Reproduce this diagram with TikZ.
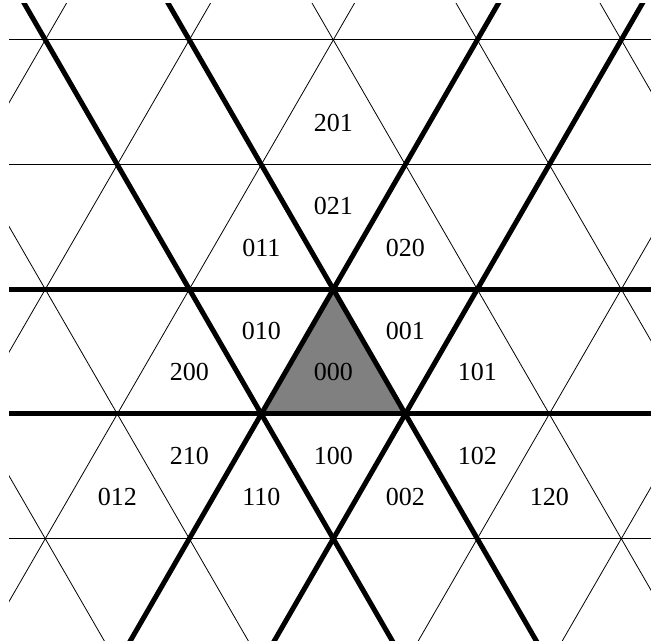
\documentclass[tikz,border=0pt]{standalone}
\usepackage{fontspec}
\setmainfont{Liberation Serif}
\usepackage{tikz}

\begin{document}
\begin{tikzpicture}[x=144pt,y=124.7pt,
  gridline/.style={line width=0.8pt},
  boldline/.style={line width=5pt},
  lab/.style={font=\fontsize{26}{30}\selectfont,inner sep=0pt}]
\useasboundingbox(-2.3146,-2.8204)rectangle(2.2063,2.32);
\begin{scope}
\clip(-2.252,-2.8204)rectangle(2.2063,2.288);
\fill[gray](0,0)--(-0.5,-1)--(0.5,-1)--cycle;
\foreach \j in {-2,1,2}
  \draw[gridline](-3,\j)--(3,\j);
\foreach \k in {-5,...,5}{
  \draw[gridline](\k-1.5,-3)--(\k+1.5,3);
  \draw[gridline](\k+1.5,-3)--(\k-1.5,3);}
\draw[boldline](-3,0)--(3,0)
(-3,-1)--(3,-1);
\draw[boldline](-1.5,-3)--(1.5,3)
(-0.5,-3)--(2.5,3);
\draw[boldline](1.5,-3)--(-1.5,3)
(0.5,-3)--(-2.5,3);
\end{scope}
\node[lab](l201)at(0,4/3){201};
\node[lab](l021)at(0,2/3){021};
\node[lab](l011)at(-0.5,1/3){011};
\node[lab](l020)at(0.5,1/3){020};
\node[lab](l010)at(-0.5,-1/3){010};
\node[lab](l001)at(0.5,-1/3){001};
\node[lab](l200)at(-1,-2/3){200};
\node[lab](l000)at(0,-2/3){000};
\node[lab](l101)at(1,-2/3){101};
\node[lab](l210)at(-1,-4/3){210};
\node[lab](l100)at(0,-4/3){100};
\node[lab](l102)at(1,-4/3){102};
\node[lab](l012)at(-1.5,-5/3){012};
\node[lab](l110)at(-0.5,-5/3){110};
\node[lab](l002)at(0.5,-5/3){002};
\node[lab](l120)at(1.5,-5/3){120};
\end{tikzpicture}
\end{document}
